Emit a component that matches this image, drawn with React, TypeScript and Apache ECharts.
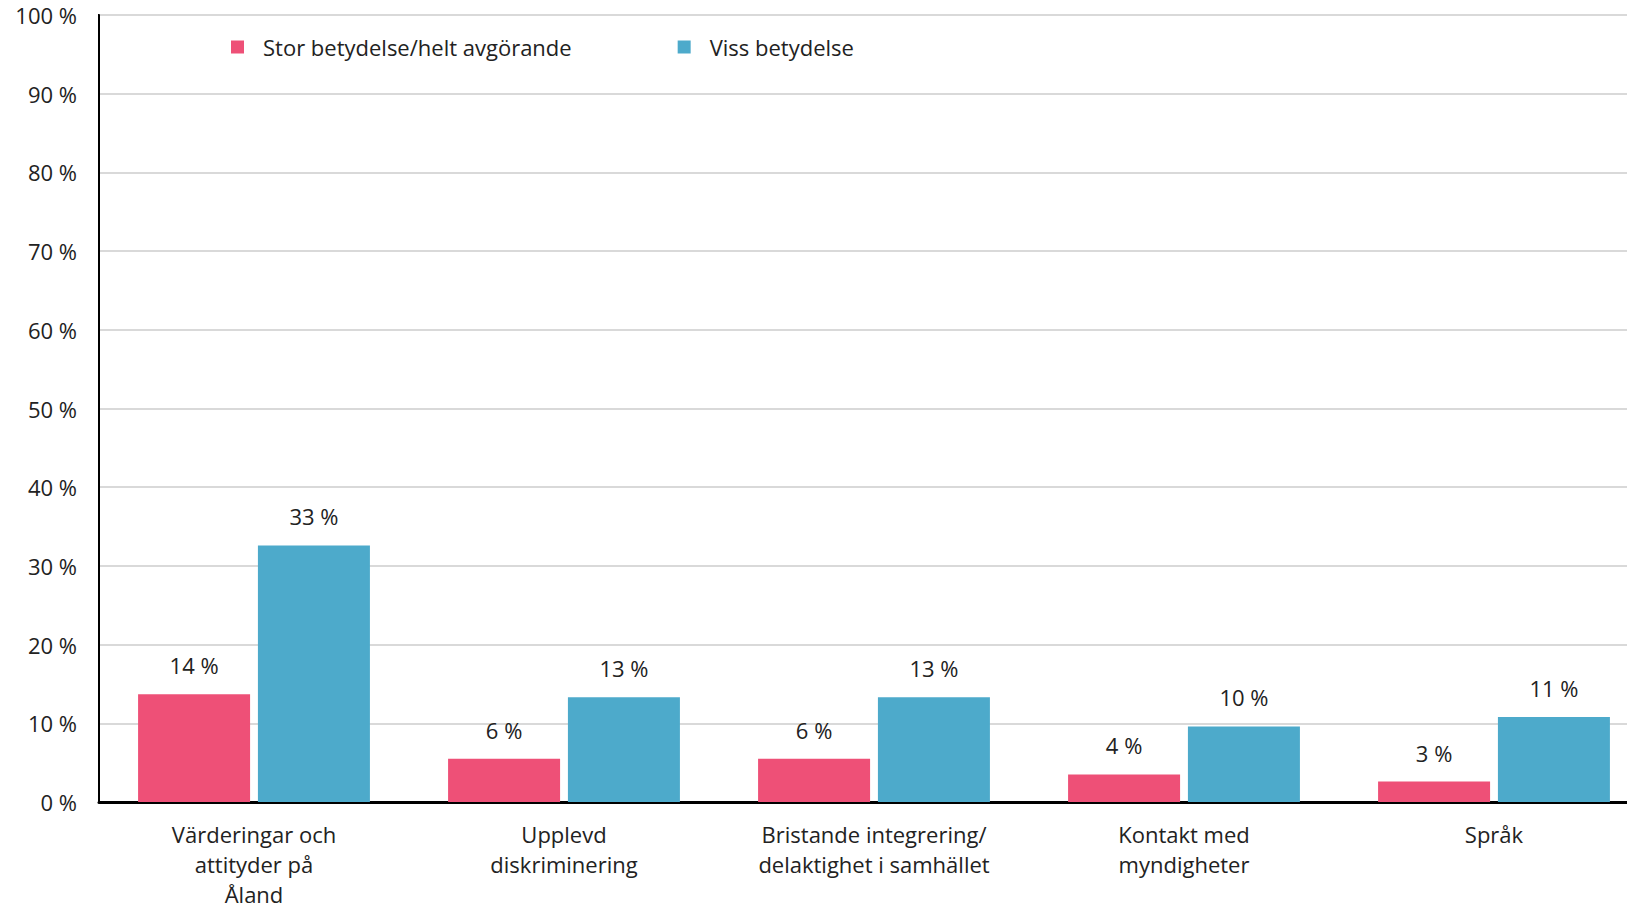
import React, { useEffect, useRef } from "react";
import * as echarts from "echarts";

const categories = [
  "Värderingar och\nattityder på\nÅland",
  "Upplevd\ndiskriminering",
  "Bristande integrering/\ndelaktighet i samhället",
  "Kontakt med\nmyndigheter",
  "Språk",
];
const seriesNames = ["Stor betydelse/helt avgörande", "Viss betydelse"];
const storValues = [13.7, 5.5, 5.5, 3.5, 2.6];
const vissValues = [32.6, 13.3, 13.3, 9.6, 10.8];
const colors = ["#EE5077", "#4DAACB"];

const FONT = "'Open Sans', Lato, sans-serif";

export default function App() {
  const ref = useRef<HTMLDivElement>(null);
  useEffect(() => {
    if (!ref.current) return;
    const chart = echarts.init(ref.current, null, { renderer: "svg" });
    const label = {
      show: true,
      position: "top" as const,
      distance: 18,
      color: "#222",
      fontSize: 22,
      fontFamily: FONT,
      formatter: (p: any) => `${Math.round(p.value)} %`,
    };
    chart.setOption({
      animation: false,
      textStyle: { fontFamily: FONT },
      legend: {
        left: 226,
        top: 31,
        itemWidth: 13,
        itemHeight: 13,
        itemGap: 106,
        icon: "rect",
        textStyle: { fontSize: 22, color: "#222", fontFamily: FONT, padding: [0, 0, 0, 14] },
        data: seriesNames,
      },
      grid: {
        left: 99,
        right: 0,
        top: 15,
        bottom: 104,
        show: true,
        borderColor: "#000",
        borderWidth: 2,
        containLabel: false,
      },
      xAxis: {
        type: "category",
        data: categories,
        axisLine: { show: true, lineStyle: { color: "#000", width: 3 } },
        axisTick: { show: false },
        axisLabel: {
          color: "#222",
          fontSize: 22,
          fontFamily: FONT,
          lineHeight: 30,
          margin: 17,
          interval: 0,
        },
      },
      yAxis: {
        type: "value",
        min: 0,
        max: 100,
        interval: 10,
        axisLine: { show: true, lineStyle: { color: "#000", width: 2 } },
        axisTick: { show: false },
        axisLabel: {
          color: "#222",
          fontSize: 22,
          fontFamily: FONT,
          margin: 22,
          formatter: "{value} %",
        },
        splitLine: { show: true, lineStyle: { color: "#D9D9D9", width: 2 } },
      },
      series: [
        {
          name: seriesNames[0],
          type: "bar",
          data: storValues,
          barWidth: 112,
          barGap: "7%",
          itemStyle: { color: colors[0] },
          label,
        },
        {
          name: seriesNames[1],
          type: "bar",
          data: vissValues,
          barWidth: 112,
          barGap: "7%",
          itemStyle: { color: colors[1] },
          label,
        },
      ],
    });
    return () => chart.dispose();
  }, []);
  return (
    <div
      style={{
        position: "absolute",
        left: 0,
        top: 0,
        width: 1627,
        height: 909,
        overflow: "hidden",
        background: "#fff",
      }}
    >
      <div ref={ref} style={{ width: 1649, height: 909 }} />
    </div>
  );
}
